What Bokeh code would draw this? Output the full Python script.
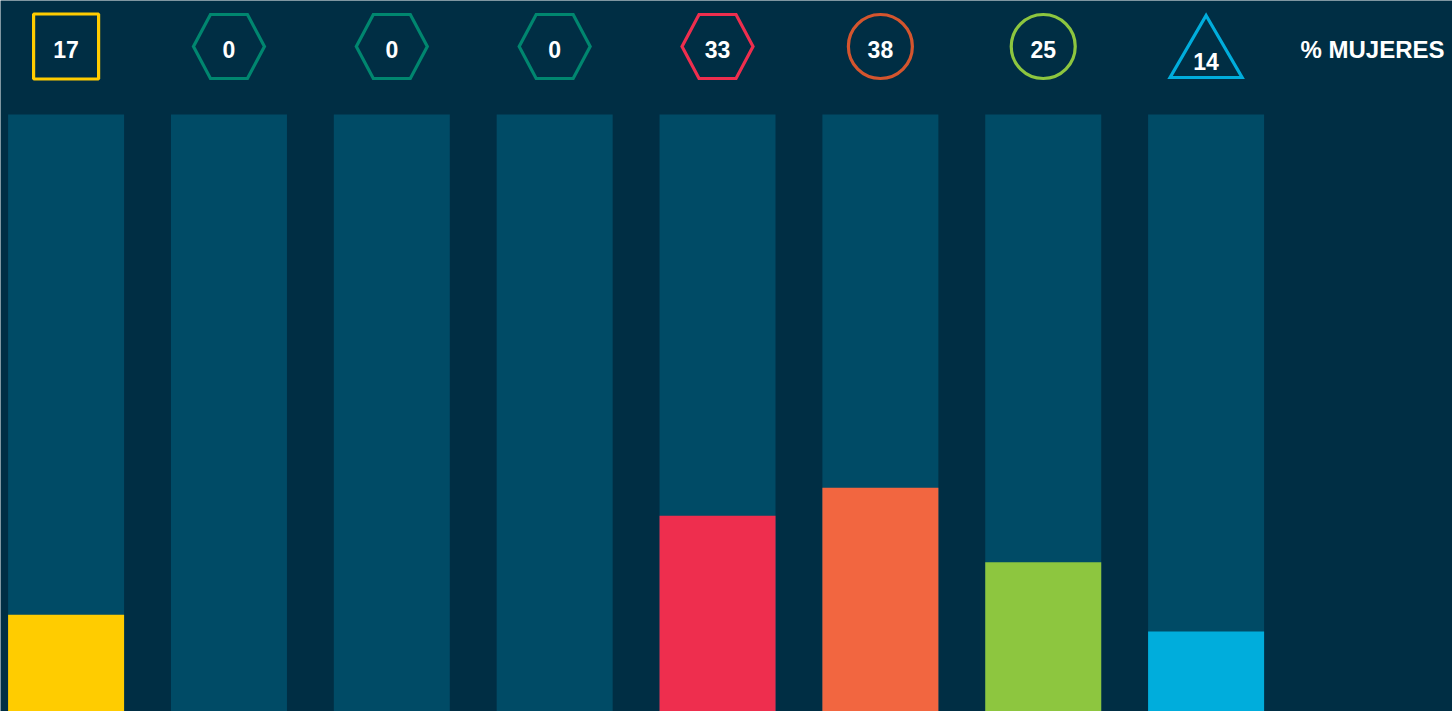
from bokeh.plotting import figure
from bokeh.models import Range1d
from bokeh.core.properties import value
from bokeh.embed import file_html
from bokeh.resources import INLINE

# ---- data ----
labels = ["17", "0", "0", "0", "33", "38", "25", "14"]
women_pct = [16.2, 0, 0, 0, 32.8, 37.5, 25.0, 13.4]
bar_colors = ["#FFCC00", "#00866F", "#00866F", "#00866F", "#EE2E4E", "#F26640", "#8DC63F", "#00ADDC"]
icon_colors = ["#FFCC00", "#00866F", "#00866F", "#00866F", "#EE2E4E", "#D4552E", "#8DC63F", "#00ADDC"]
icon_shapes = ["square", "hex", "hex", "hex", "hex", "circle", "circle", "triangle"]
legend_text = "% MUJERES"

BG = "#002E44"
TRACK = "#004B66"
W, H = 1452, 711
PX_X = 162.857   # pixels per category step
PX_Y = 5.97      # pixels per percent
x0 = -65.6 / PX_X
ymax = H / PX_Y

p = figure(width=W, height=H, output_backend="svg", toolbar_location=None,
           x_range=Range1d(x0, x0 + W / PX_X), y_range=Range1d(0, ymax),
           min_border=0, background_fill_color=BG, border_fill_color=BG)
p.axis.visible = False
p.grid.visible = False
p.outline_line_color = None

n = len(labels)
xs = list(range(n))
bw = 116 / PX_X

# track bars (100%)
p.vbar(x=xs, top=[100] * n, width=bw, bottom=0, fill_color=TRACK, line_color=None)
# value bars
p.vbar(x=xs, top=women_pct, width=bw, bottom=0, fill_color=bar_colors, line_color=None)

# icons
icon_y = (H - 46) / PX_Y
def dx(px):
    return px / PX_X
def dy(px):
    return px / PX_Y

LW = 3.2
for i, (shape, col) in enumerate(zip(icon_shapes, icon_colors)):
    if shape == "square":
        p.scatter([i], [icon_y], marker="square", size=65, fill_color=None,
                  line_color=col, line_width=LW)
    elif shape == "circle":
        p.scatter([i], [icon_y], marker="circle", size=64, fill_color=None,
                  line_color=col, line_width=LW)
    elif shape == "hex":
        hx = [i + dx(v) for v in (35.5, 18.5, -18.5, -35.5, -18.5, 18.5)]
        hy = [icon_y + dy(v) for v in (0, 32, 32, 0, -32, -32)]
        p.patch(hx, hy, fill_color=None, line_color=col, line_width=LW, line_join="miter")
    elif shape == "triangle":
        tx = [i + dx(v) for v in (0, 36, -36)]
        ty = [icon_y + dy(v) for v in (31, -31, -31)]
        p.patch(tx, ty, fill_color=None, line_color=col, line_width=LW, line_join="miter")

label_y = [icon_y - dy(3) if s != "triangle" else icon_y - dy(15) for s in icon_shapes]
p.text(x=xs, y=label_y, text=labels, text_color="white", text_font=value("Liberation Sans"),
       text_font_style="bold", text_font_size="23px", text_align="center", text_baseline="middle")

p.text(x=[x0 + 1300 / PX_X], y=[icon_y - dy(3)], text=[legend_text], text_color="white",
       text_font=value("Liberation Sans"), text_font_style="bold", text_font_size="24px",
       text_align="left", text_baseline="middle")

open("out.html", "w").write(file_html(p, INLINE))
